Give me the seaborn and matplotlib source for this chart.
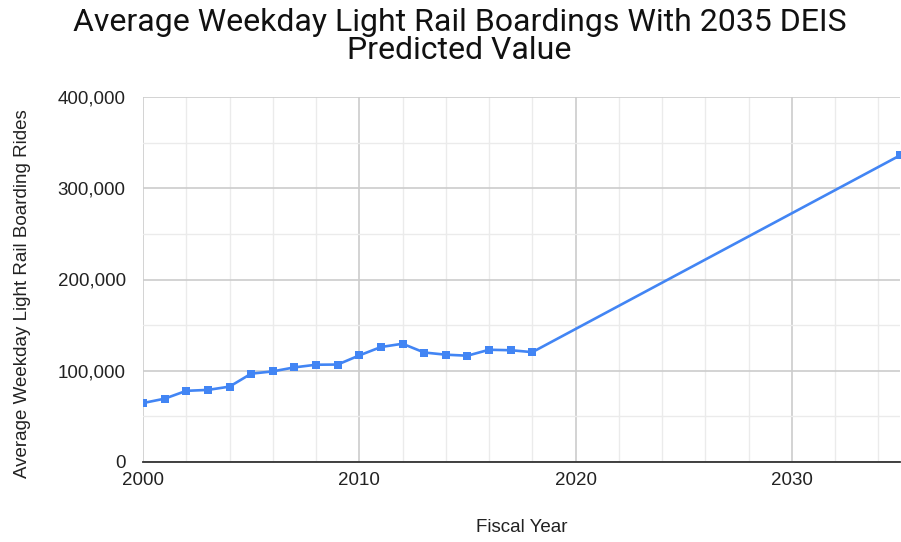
import matplotlib
matplotlib.use("Agg")
import matplotlib.pyplot as plt
import matplotlib.ticker as mticker
import seaborn as sns
import pandas as pd

# fiscal years and average weekday boardings
years = [2000, 2001, 2002, 2003, 2004, 2005, 2006, 2007, 2008, 2009,
         2010, 2011, 2012, 2013, 2014, 2015, 2016, 2017, 2018, 2035]
boardings = [64600, 69400, 78000, 79000, 82600, 96800, 99300, 103700, 106600, 106800,
             116800, 126000, 129600, 120000, 117600, 116500, 123000, 122500, 120400, 336000]

df = pd.DataFrame({"Fiscal Year": years, "Boardings": boardings})

sns.set_style("white")
plt.rcParams["font.family"] = ["Liberation Sans", "DejaVu Sans"]

fig = plt.figure(figsize=(9.01, 5.42), dpi=100)
ax = fig.add_axes([143 / 901, 1 - 462 / 542, (900 - 143) / 901, (462 - 97) / 542])

sns.lineplot(data=df, x="Fiscal Year", y="Boardings", ax=ax, color="#4285F4",
             linewidth=1.9, marker="s", markersize=5.5, markeredgewidth=0, zorder=3)

ax.set_xlim(2000, 2035)
ax.set_ylim(0, 400000)
ax.xaxis.set_major_locator(mticker.MultipleLocator(10))
ax.xaxis.set_minor_locator(mticker.MultipleLocator(2))
ax.yaxis.set_major_locator(mticker.MultipleLocator(100000))
ax.yaxis.set_minor_locator(mticker.MultipleLocator(50000))
ax.yaxis.set_major_formatter(mticker.FuncFormatter(lambda v, p: f"{int(v):,}"))

ax.grid(which="major", color="#cccccc", linewidth=1.2)
ax.grid(which="minor", color="#ebebeb", linewidth=1.0)
ax.set_axisbelow(True)
for s in ["top", "right", "left"]:
    ax.spines[s].set_visible(False)
ax.spines["bottom"].set_color("#333333")
ax.spines["bottom"].set_linewidth(1.3)
ax.tick_params(which="both", length=0, labelsize=13.5, colors="#222222")
ax.tick_params(axis="y", pad=12.5)
ax.tick_params(axis="x", pad=7)

ax.set_xlabel("Fiscal Year", fontsize=13.5, color="#222222", labelpad=22)
ax.set_ylabel("Average Weekday Light Rail Boarding Rides", fontsize=13.5,
              color="#222222")
ax.yaxis.set_label_coords(-112 / 757, 0.46)

fig.text(0.51, 0.985, "Average Weekday Light Rail Boardings With 2035 DEIS\nPredicted Value",
         ha="center", va="top", fontsize=23, color="#111111", linespacing=0.95,
         family=["Roboto", "DejaVu Sans"])

fig.savefig("out.png", dpi=100)
